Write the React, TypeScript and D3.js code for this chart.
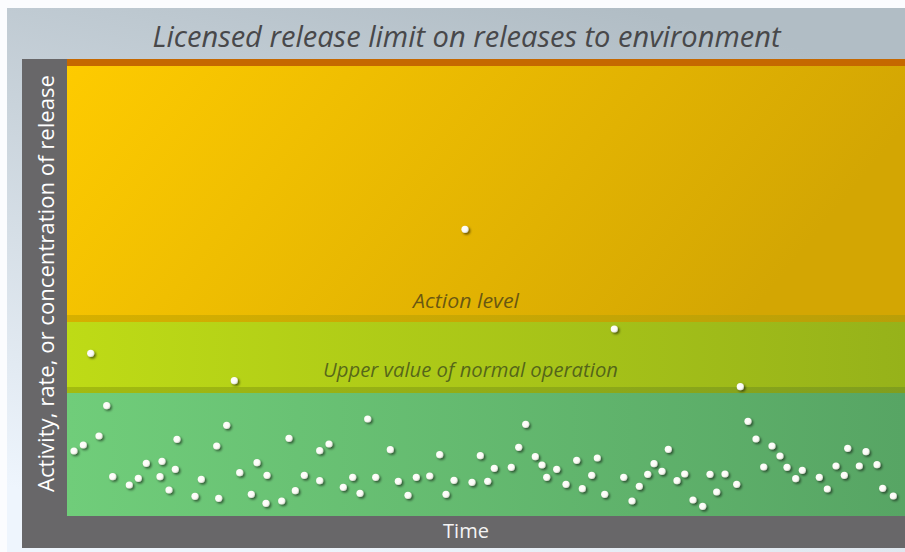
import React from 'react';
import * as d3 from 'd3';

// ---- data (time in arbitrary units, level in arbitrary activity units) ----
const times = [
  7, 16.3, 23.7, 32, 39.7, 45.7, 62.3, 71.3, 79.3, 93, 95, 102, 108.3, 110, 128, 134.3, 149.7, 151.7,
  159.7, 167.3, 172.7, 184.3, 190, 199, 200, 214.7, 222, 228.3, 237.3, 252.7, 252.7, 262, 276.3, 285.7,
  293, 300.7, 308.7, 323.3, 331.3, 341, 349.3, 362.7, 372.7, 379, 387, 398, 405, 413.3, 420.7, 427.3,
  444.3, 451.7, 458.7, 468.3, 475, 479.7, 489.7, 499, 509.7, 515.3, 524.7, 530.3, 537.7, 547.3, 556.7,
  565, 572.3, 580.7, 587, 595, 601.3, 610, 617.7, 626, 635.7, 643, 649.7, 658, 669.7, 673.3, 681, 689,
  696.7, 705, 713, 720, 728.7, 735.3, 752.3, 760.3, 769, 777.3, 780.7, 792.3, 799, 810, 815.7, 826.3,
];
const levels = [
  65, 71, 162.7, 80, 110.3, 39.3, 31, 37.7, 52.7, 39.3, 54.7, 26, 46.7, 76.7, 19.7, 36.7, 70, 17.7,
  90.7, 135.3, 43.3, 21.7, 53.3, 12.7, 40.7, 15, 77.7, 25.3, 40.7, 65.3, 35.3, 72, 28.7, 38.7,
  22.7, 97, 38.7, 66.3, 34.7, 20.7, 38.7, 40, 61.3, 21.7, 35.7, 286.7, 33.7, 60.3, 34.7, 47.7,
  48.7, 68.7, 91.7, 59.3, 51, 38.7, 46.7, 31.7, 55.7, 27.3, 40.7, 58, 21.7, 187, 38.7,
  15, 29.7, 41.7, 52.3, 44.7, 66.7, 35.3, 42, 16, 9.7, 41.7, 24, 42, 31.7, 129.3, 94.7, 77,
  49, 70, 60, 48.7, 37.3, 45.7, 38.7, 27, 50, 40.7, 67.7, 50, 64.3, 51.3, 27.7, 20,
];

const licensedLimit = 453.5;
const actionLevel = 197.5;
const upperNormal = 126;
const timeDomain = [0, 838];
const levelDomain = [0, 450];

const titleText = 'Licensed release limit on releases to environment';
const yLabelText = 'Activity, rate, or concentration of release';
const xLabelText = 'Time';
const actionLabelText = 'Action level';
const upperLabelText = 'Upper value of normal operation';

const W = 905;
const H = 552;

export default function App() {
  const frame = { x0: 22, y0: 59, x1: 905, y1: 548 };
  const plot = { x0: 67, y0: 66, x1: 905, y1: 516 };
  const x = d3.scaleLinear().domain(timeDomain).range([plot.x0, plot.x1]);
  const y = d3.scaleLinear().domain(levelDomain).range([plot.y1, plot.y0]);

  const yLimit = y(licensedLimit);
  const yAction = y(actionLevel);
  const yUpper = y(upperNormal);
  const yZero = y(0);
  const font = "'Open Sans', 'Noto Sans', sans-serif";
  const midX = (frame.x0 + frame.x1) / 2 + 3;

  const pts = times.map((t, i) => ({ t, v: levels[i] }));

  return (
    <svg
      width={W}
      height={H}
      style={{ position: 'absolute', left: 0, top: 0, display: 'block' }}
    >
      <defs>
        <linearGradient id="bg" x1="0.7" y1="0" x2="0.3" y2="1">
          <stop offset="0" stopColor="#b1bdc5" />
          <stop offset="1" stopColor="#eef5fd" />
        </linearGradient>
        <linearGradient id="gOrange" x1="0" y1="0" x2="1" y2="0.25">
          <stop offset="0" stopColor="#fecb00" />
          <stop offset="1" stopColor="#d3a603" />
        </linearGradient>
        <linearGradient id="gSep1" x1="0" y1="0" x2="1" y2="0">
          <stop offset="0" stopColor="#d6b000" />
          <stop offset="1" stopColor="#b99f08" />
        </linearGradient>
        <linearGradient id="gYellow" x1="0" y1="0" x2="1" y2="0">
          <stop offset="0" stopColor="#bedb16" />
          <stop offset="1" stopColor="#96b21a" />
        </linearGradient>
        <linearGradient id="gSep2" x1="0" y1="0" x2="1" y2="0">
          <stop offset="0" stopColor="#a3bb10" />
          <stop offset="1" stopColor="#809e1e" />
        </linearGradient>
        <linearGradient id="gGreen" x1="0" y1="0" x2="1" y2="0">
          <stop offset="0" stopColor="#70cd7a" />
          <stop offset="1" stopColor="#57a564" />
        </linearGradient>
        <radialGradient id="dotFill" cx="0.4" cy="0.4" r="0.6">
          <stop offset="0" stopColor="#ffffff" />
          <stop offset="0.7" stopColor="#fbfbf5" />
          <stop offset="1" stopColor="#d8d8d0" />
        </radialGradient>
        <filter id="shadow" x="-100%" y="-100%" width="300%" height="300%">
          <feDropShadow dx="1.6" dy="1.6" stdDeviation="1.1" floodColor="#000" floodOpacity="0.55" />
        </filter>
      </defs>

      {/* page background */}
      <rect x={0} y={0} width={W} height={H} fill="#fbfcfe" />
      <rect x={7} y={8} width={W - 7} height={H - 8} fill="url(#bg)" />

      {/* title */}
      <text
        x={midX}
        y={47}
        textAnchor="middle"
        fontFamily={font}
        fontStyle="italic"
        fontWeight={500}
        fontSize={30}
        fill="#48484a"
        textLength={628}
        lengthAdjust="spacingAndGlyphs"
      >
        {titleText}
      </text>

      {/* gray frame */}
      <rect
        x={frame.x0}
        y={frame.y0}
        width={frame.x1 - frame.x0}
        height={frame.y1 - frame.y0}
        fill="#686769"
      />

      {/* bands */}
      <rect x={plot.x0} y={yLimit} width={plot.x1 - plot.x0} height={yAction - yLimit} fill="url(#gOrange)" />
      <rect x={plot.x0} y={yAction} width={plot.x1 - plot.x0} height={yUpper - yAction} fill="url(#gYellow)" />
      <rect x={plot.x0} y={yUpper} width={plot.x1 - plot.x0} height={yZero - yUpper} fill="url(#gGreen)" />

      {/* separators */}
      <rect x={plot.x0} y={yAction - 3.5} width={plot.x1 - plot.x0} height={7} fill="url(#gSep1)" />
      <rect x={plot.x0} y={yUpper - 3} width={plot.x1 - plot.x0} height={6} fill="url(#gSep2)" />
      <rect x={plot.x0} y={yLimit - 3.5} width={plot.x1 - plot.x0} height={7} fill="#c56800" />

      {/* band labels */}
      <text
        x={466}
        y={yAction - 10.5}
        textAnchor="middle"
        fontFamily={font}
        fontStyle="italic"
        fontSize={20}
        fill="#3a3418"
        fillOpacity={0.72}
        textLength={106}
        lengthAdjust="spacingAndGlyphs"
      >
        {actionLabelText}
      </text>
      <text
        x={470.5}
        y={yUpper - 13}
        textAnchor="middle"
        fontFamily={font}
        fontStyle="italic"
        fontSize={20}
        fill="#33401a"
        fillOpacity={0.72}
        textLength={295}
        lengthAdjust="spacingAndGlyphs"
      >
        {upperLabelText}
      </text>

      {/* dots */}
      <g filter="url(#shadow)">
        {pts.map((p, i) => (
          <circle key={i} cx={x(p.t)} cy={y(p.v)} r={3.6} fill="url(#dotFill)" />
        ))}
      </g>

      {/* axis labels */}
      <text
        transform={`translate(53.5, 283.5) rotate(-90)`}
        textAnchor="middle"
        fontFamily={font}
        fontSize={21}
        fill="#ffffff"
        textLength={417}
        lengthAdjust="spacingAndGlyphs"
      >
        {yLabelText}
      </text>
      <text
        x={466}
        y={538}
        textAnchor="middle"
        fontFamily={font}
        fontSize={20}
        fill="#f4f4f4"
      >
        {xLabelText}
      </text>
    </svg>
  );
}
